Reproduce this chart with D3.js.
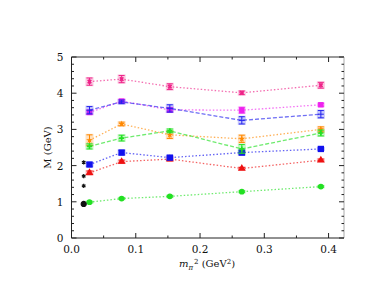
<!DOCTYPE html>
<html>
<head>
<meta charset="utf-8">
<script src="https://cdn.jsdelivr.net/npm/d3@7"></script>
<style>
  body { margin: 0; background: #fff; }
  text { font-family: "DejaVu Serif", "Liberation Serif", serif; }
</style>
</head>
<body>
<div id="chart"></div>
<script>
// pion mass squared (GeV^2)
const mpi2 = [0.028, 0.078, 0.153, 0.265, 0.388];
const physX = 0.019;
const physM = [0.94, 1.44, 1.71, 2.09];

// each series: values and errors
const green1 = [0.99, 1.09, 1.15, 1.28, 1.42];
const green1Err = [0.02, 0.02, 0.02, 0.02, 0.02];
const red = [1.80, 2.11, 2.18, 1.92, 2.15];
const redErr = [0.05, 0.04, 0.05, 0.03, 0.03];
const blueSq = [2.03, 2.36, 2.22, 2.36, 2.46];
const blueSqErr = [0.05, 0.06, 0.05, 0.06, 0.03];
const green2 = [2.53, 2.76, 2.96, 2.46, 2.90];
const green2Err = [0.07, 0.08, 0.05, 0.12, 0.08];
const orange = [2.70, 3.15, 2.85, 2.74, 3.00];
const orangeErr = [0.15, 0.05, 0.1, 0.1, 0.07];
const blueDash = [3.53, 3.76, 3.58, 3.25, 3.42];
const blueDashErr = [0.1, 0.05, 0.1, 0.1, 0.1];
const magenta = [3.47, 3.78, 3.54, 3.53, 3.68];
const magentaErr = [0.06, 0.05, 0.06, 0.08, 0.04];
const pink = [4.32, 4.39, 4.18, 4.01, 4.22];
const pinkErr = [0.1, 0.1, 0.08, 0.05, 0.08];

const series = [
  {v: green1, e: green1Err, c: "#22e022", sym: d3.symbolCircle, size: 26, dash: "1.5,2"},
  {v: red, e: redErr, c: "#ee1111", sym: d3.symbolTriangle, size: 26, dash: "1.5,2"},
  {v: blueSq, e: blueSqErr, c: "#1111ee", sym: d3.symbolSquare, size: 40, dash: "1.5,2"},
  {v: orange, e: orangeErr, c: "#ff8800", sym: d3.symbolStar, size: 14, dash: "1.5,2"},
  {v: green2, e: green2Err, c: "#22e022", sym: d3.symbolCross, size: 14, dash: "4,2"},
  {v: magenta, e: magentaErr, c: "#ee22ee", sym: d3.symbolSquare, size: 30, dash: "1.5,2"},
  {v: blueDash, e: blueDashErr, c: "#2222ee", sym: null, size: 0, dash: "4,2"},
  {v: pink, e: pinkErr, c: "#ee2288", sym: d3.symbolCross, size: 14, dash: "1.5,2", rot: true}
];

const width = 382, height = 295;
const margin = {left: 71.5, right: 38, top: 57, bottom: 57};

const svg = d3.select("#chart").append("svg")
  .attr("width", width).attr("height", height);

const x = d3.scaleLinear().domain([0, 0.424]).range([margin.left, width - margin.right]);
const y = d3.scaleLinear().domain([0, 5]).range([height - margin.bottom, margin.top]);

const x0 = x.range()[0], x1 = x.range()[1], y0 = y.range()[0], y1 = y.range()[1];

// frame
svg.append("line").attr("x1", x0).attr("x2", x1).attr("y1", y1).attr("y2", y1)
  .attr("stroke", "#999").attr("stroke-width", 2);
svg.append("line").attr("x1", x1).attr("x2", x1).attr("y1", y1).attr("y2", y0)
  .attr("stroke", "#aaa").attr("stroke-width", 1);
svg.append("line").attr("x1", x0).attr("x2", x1).attr("y1", y0).attr("y2", y0)
  .attr("stroke", "#222").attr("stroke-width", 1);
svg.append("line").attr("x1", x0).attr("x2", x0).attr("y1", y1).attr("y2", y0)
  .attr("stroke", "#222").attr("stroke-width", 1);

// ticks
const xMajor = [0, 0.1, 0.2, 0.3, 0.4];
const xMinor = [0.05, 0.15, 0.25, 0.35];
const yMajor = [0, 1, 2, 3, 4, 5];
const yMinor = d3.range(0.2, 5, 0.2).filter(v => Math.abs(v - Math.round(v)) > 0.01);

const tk = svg.append("g").attr("stroke", "#222").attr("stroke-width", 1);
xMajor.forEach(v => {
  tk.append("line").attr("x1", x(v)).attr("x2", x(v)).attr("y1", y0).attr("y2", y0 - 5);
  tk.append("line").attr("x1", x(v)).attr("x2", x(v)).attr("y1", y1).attr("y2", y1 + 5);
});
xMinor.forEach(v => {
  tk.append("line").attr("x1", x(v)).attr("x2", x(v)).attr("y1", y0).attr("y2", y0 - 2.5);
  tk.append("line").attr("x1", x(v)).attr("x2", x(v)).attr("y1", y1).attr("y2", y1 + 2.5);
});
yMajor.forEach(v => {
  tk.append("line").attr("x1", x0).attr("x2", x0 + 5).attr("y1", y(v)).attr("y2", y(v));
  tk.append("line").attr("x1", x1).attr("x2", x1 - 5).attr("y1", y(v)).attr("y2", y(v));
});
yMinor.forEach(v => {
  tk.append("line").attr("x1", x0).attr("x2", x0 + 2.5).attr("y1", y(v)).attr("y2", y(v));
  tk.append("line").attr("x1", x1).attr("x2", x1 - 2.5).attr("y1", y(v)).attr("y2", y(v));
});

// tick labels
svg.append("g").selectAll("text").data(xMajor).join("text")
  .attr("x", d => x(d)).attr("y", y0 + 15)
  .attr("text-anchor", "middle").attr("font-size", 10.5).attr("fill", "#111")
  .text(d => d3.format(".1f")(d));
svg.append("g").selectAll("text").data(yMajor).join("text")
  .attr("x", x0 - 8).attr("y", d => y(d) + 4)
  .attr("text-anchor", "end").attr("font-size", 10.5).attr("fill", "#111")
  .text(d => d);

// axis titles
svg.append("text")
  .attr("transform", `translate(51,${(y0 + y1) / 2}) rotate(-90)`)
  .attr("text-anchor", "middle").attr("font-size", 10).attr("fill", "#111")
  .text("M (GeV)");

const xt = svg.append("text")
  .attr("x", 207).attr("y", y0 + 29)
  .attr("text-anchor", "middle").attr("font-size", 10).attr("fill", "#111");
xt.append("tspan").attr("font-style", "italic").text("m");
xt.append("tspan").attr("font-style", "italic").attr("font-size", 7).attr("dy", 3).text("π");
xt.append("tspan").attr("font-size", 7).attr("dy", -6).attr("dx", 1).text("2");
xt.append("tspan").attr("dy", 3).text(" (GeV");
xt.append("tspan").attr("font-size", 7).attr("dy", -3).text("2");
xt.append("tspan").attr("dy", 3).text(")");

const line = d3.line().x((d, i) => x(mpi2[i])).y(d => y(d));

series.forEach(s => {
  const g = svg.append("g");
  g.append("path").datum(s.v).attr("d", line)
    .attr("fill", "none").attr("stroke", s.c).attr("stroke-opacity", 0.65)
    .attr("stroke-width", 1.3).attr("stroke-dasharray", s.dash);

  s.v.forEach((v, i) => {
    const cx = x(mpi2[i]), cy = y(v);
    // pale halo behind marker
    g.append("rect").attr("x", cx - 4).attr("y", y(v + s.e[i]) - 1)
      .attr("width", 8).attr("height", y(v - s.e[i]) - y(v + s.e[i]) + 2)
      .attr("fill", s.c).attr("opacity", 0.25);
    // error bar
    const eb = g.append("g").attr("stroke", s.c).attr("stroke-width", 1);
    eb.append("line").attr("x1", cx).attr("x2", cx).attr("y1", y(v - s.e[i])).attr("y2", y(v + s.e[i]));
    eb.append("line").attr("x1", cx - 3).attr("x2", cx + 3).attr("y1", y(v - s.e[i])).attr("y2", y(v - s.e[i]));
    eb.append("line").attr("x1", cx - 3).attr("x2", cx + 3).attr("y1", y(v + s.e[i])).attr("y2", y(v + s.e[i]));
    if (s.sym) {
      g.append("path").attr("d", d3.symbol().type(s.sym).size(s.size)())
        .attr("transform", `translate(${cx},${cy})${s.rot ? " rotate(45)" : ""}`)
        .attr("fill", s.c);
    } else {
      g.append("line").attr("x1", cx - 3).attr("x2", cx + 3).attr("y1", cy).attr("y2", cy)
        .attr("stroke", s.c).attr("stroke-width", 1);
    }
  });
});

// physical (experimental) points
svg.append("g").selectAll("path").data(physM).join("path")
  .attr("d", (d, i) => d3.symbol().type(i === 0 ? d3.symbolCircle : d3.symbolAsterisk).size(i === 0 ? 20 : 12)())
  .attr("transform", d => `translate(${x(physX)},${y(d)})`)
  .attr("fill", "#111").attr("stroke", "#111").attr("stroke-width", 1.2);
</script>
</body>
</html>
